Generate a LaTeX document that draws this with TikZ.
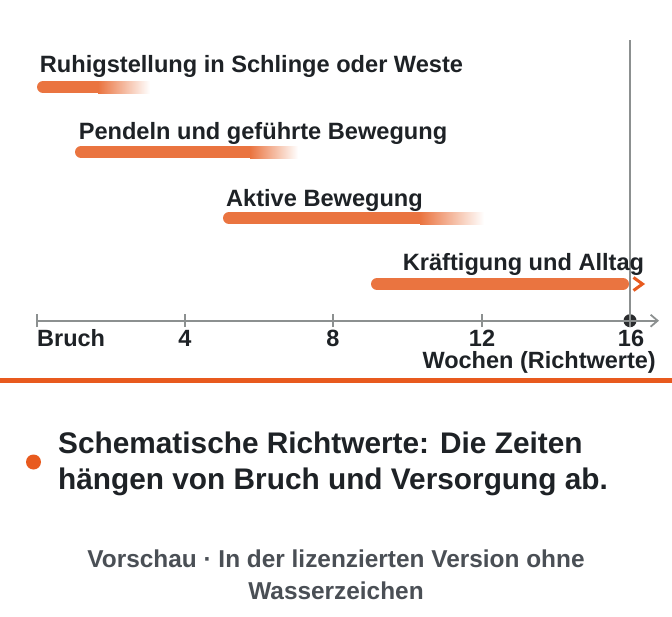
\documentclass[tikz,border=0pt]{standalone}
\usepackage{fontspec}
\setmainfont{Liberation Sans}
\usetikzlibrary{arrows.meta}
\definecolor{barc}{HTML}{EA7440}
\definecolor{rulec}{HTML}{E85A1E}
\definecolor{txt}{HTML}{1E2226}
\definecolor{axc}{HTML}{8C9090}
\definecolor{foot}{HTML}{4A4F55}
\definecolor{dotc}{HTML}{2A2C2E}
\begin{document}
\begin{tikzpicture}[x=1pt,y=-1pt,
  lab/.style={font=\fontsize{23.6}{28}\selectfont\bfseries, text=txt, inner sep=0pt, anchor=base},
  axlab/.style={font=\fontsize{23.5}{28}\selectfont\bfseries, text=txt, inner sep=0pt, anchor=base},
  bigtxt/.style={font=\fontsize{29.8}{36}\selectfont\bfseries, text=txt, inner sep=0pt, anchor=base west},
  foottxt/.style={font=\fontsize{24.4}{29}\selectfont\bfseries, text=foot, inner sep=0pt, anchor=base},
  bar/.style={line width=12pt, line cap=round, draw=barc},
  axisline/.style={draw=axc, line width=1.8pt},
  tickmark/.style={draw=axc, line width=1.8pt}]
\useasboundingbox (0,0) rectangle (672,616);
\fill[white] (0,0) rectangle (672,616);

% vertical marker line at week 16
\coordinate (vtop) at (630,40);
\coordinate (w16) at (630,320.7);
\draw[draw=axc, line width=1.4pt] (vtop) -- (w16);

% bar labels
\node[lab] (l1) at (251.5,72) {Ruhigstellung in Schlinge oder Weste};
\node[lab] (l2) at (263,139) {Pendeln und geführte Bewegung};
\node[lab] (l3) at (324.5,206) {Aktive Bewegung};
\node[lab] (l4) at (523.5,270) {Kräftigung und Alltag};

% bars with fading ends
\draw[bar] (43,87) -- (98,87);
\shade[left color=barc, right color=white] (98,81) rectangle (150,93);
\draw[bar] (81,152) -- (250,152);
\shade[left color=barc, right color=white] (250,146) rectangle (298,158);
\draw[bar] (229,218) -- (420,218);
\shade[left color=barc, right color=white] (420,212) rectangle (484,224);
\draw[bar] (377,284) -- (623,284);
\coordinate (c1) at (633.5,277.5);
\coordinate (c2) at (642.5,284);
\coordinate (c3) at (633.5,290.5);
\draw[draw=rulec, line width=3pt, line join=miter] (c1) -- (c2) -- (c3);

% axis
\coordinate (a0) at (37,320.7);
\coordinate (a1) at (185,320.7);
\coordinate (a2) at (333,320.7);
\coordinate (a3) at (482,320.7);
\coordinate (aend) at (659,320.7);
\fill[dotc] (w16) circle (6.5);
\draw[axisline, -{Straight Barb[length=7pt,width=12pt,line width=1.8pt]}] (a0) -- (aend);
\foreach \c in {a0,a1,a2,a3}{
  \draw[tickmark] ([yshift=-6.5pt]\c) -- ([yshift=6.5pt]\c);
}
\draw[draw=axc, line width=1.5pt] ([yshift=-6.5pt]w16) -- ([yshift=6.5pt]w16);

\node[axlab, anchor=base west] (t0) at (37,346.7) {Bruch};
\node[axlab] (t1) at (185,346.7) {4};
\node[axlab] (t2) at (333,346.7) {8};
\node[axlab] (t3) at (482,346.7) {12};
\node[axlab] (t4) at (631,346.7) {16};
\node[axlab, anchor=base east] (unit) at (656,368) {Wochen (Richtwerte)};

% separator rule
\coordinate (r0) at (0,380);
\coordinate (r1) at (672,380);
\draw[draw=rulec, line width=5pt] (r0) -- (r1);

% note
\fill[rulec] (33.5,462) circle (7.5);
\node[bigtxt] (n1) at (58,453) {Schematische Richtwerte: Die Zeiten};
\node[bigtxt] (n2) at (58,489) {hängen von Bruch und Versorgung ab.};

% footer
\node[foottxt] (f1) at (336,567) {Vorschau · In der lizenzierten Version ohne};
\node[foottxt] (f2) at (336,599) {Wasserzeichen};
\end{tikzpicture}
\end{document}
